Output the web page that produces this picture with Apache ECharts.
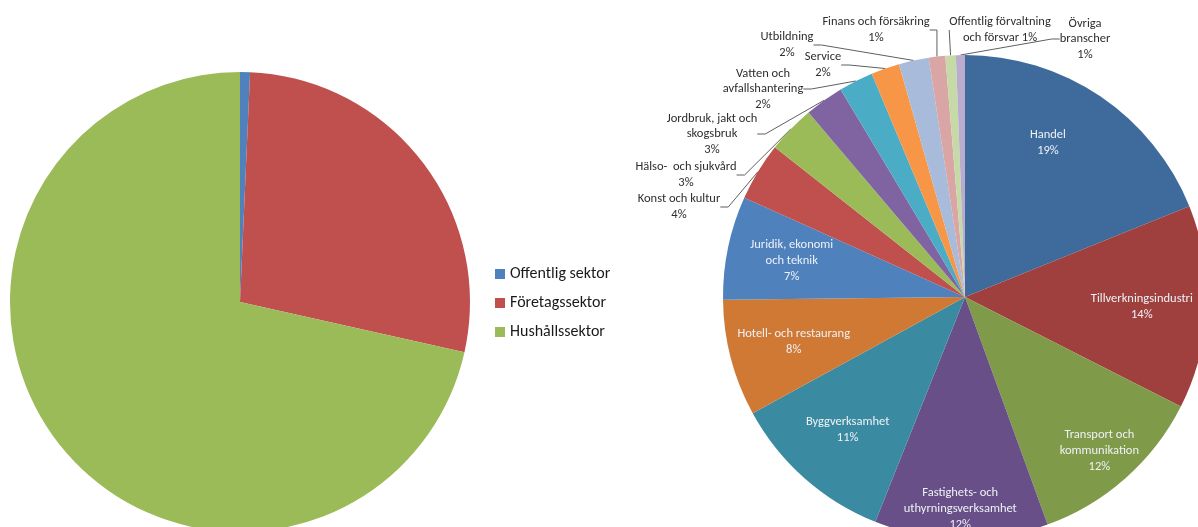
<!DOCTYPE html>
<html>
<head>
<meta charset="utf-8">
<script src="https://cdn.jsdelivr.net/npm/echarts@6/dist/echarts.min.js"></script>
<style>
  html, body { margin: 0; padding: 0; background: #fff; }
  #chart { width: 1198px; height: 527px; }
</style>
</head>
<body>
<div id="chart"></div>
<script>
// vänster diagram: sektorer
const sectorNames = ['Offentlig sektor', 'Företagssektor', 'Hushållssektor'];
const sectorValues = [0.7, 27.8, 71.5];
const sectorColors = ['#4F81BD', '#C0504D', '#9BBB59'];

// höger diagram: branscher (procent)
const branchNames = [
    'Handel',
    'Tillverkningsindustri',
    'Transport och\nkommunikation',
    'Fastighets- och\nuthyrningsverksamhet',
    'Byggverksamhet',
    'Hotell- och restaurang',
    'Juridik, ekonomi\noch teknik',
    'Konst och kultur',
    'Hälso-  och sjukvård',
    'Jordbruk, jakt och\nskogsbruk',
    'Vatten och\navfallshantering',
    'Service',
    'Utbildning',
    'Finans och försäkring',
    'Offentlig förvaltning\noch försvar',
    'Övriga\nbranscher'
];
const branchValues = [18.9, 13.6, 12.0, 11.6, 11.0, 7.8, 6.9, 3.9, 3.2, 2.6, 2.3, 1.9, 2.0, 1.1, 0.7, 0.6];
const branchColors = [
    '#3E6A9C', '#9F403E', '#7F9A49', '#684F87', '#3A8BA1', '#CF7935', '#4F81BD',
    '#C0504D', '#9BBB59', '#8064A2', '#4BACC6', '#F79646', '#A8BBDB', '#DAA6A5', '#C6DAA7', '#B9ACCF'
];
const insideCount = 7; // de stora sektorerna har etikett inuti

const fontFamily = 'Calibri, Carlito, Lato, sans-serif';

// manuellt placerade etiketter (som i Excel)
const outerLabelPos = {
    'Konst och kultur': [679, 207],
    'Hälso-  och sjukvård': [686, 175],
    'Jordbruk, jakt och\nskogsbruk': [712, 134],
    'Vatten och\navfallshantering': [763, 89],
    'Service': [823, 65],
    'Utbildning': [787, 45],
    'Finans och försäkring': [876, 30],
    'Offentlig förvaltning\noch försvar': [1000, 30],
    'Övriga\nbranscher': [1085, 39]
};
const insideOffset = {
    'Handel': [-16, -7],
    'Tillverkningsindustri': [0, 2],
    'Transport och\nkommunikation': [17, 21],
    'Fastighets- och\nuthyrningsverksamhet': [-2, 35]
};

const pctLabel = (params) => {
    const sep = params.name.indexOf('Offentlig') === 0 ? ' ' : '\n';
    return params.name + sep + Math.round(params.value) + '%';
};

const chart = echarts.init(document.getElementById('chart'));

const mainData = branchNames.map((n, i) => ({
    name: n,
    value: branchValues[i],
    itemStyle: { color: branchColors[i] },
    label: { show: i >= insideCount },
    labelLine: { show: i >= insideCount }
}));

const overlayData = branchNames.map((n, i) => ({
    name: n,
    value: branchValues[i],
    label: {
        show: i < insideCount,
        offset: insideOffset[n] || [0, 0]
    }
}));

const option = {
    animation: false,
    legend: {
        data: sectorNames,
        orient: 'vertical',
        left: 490,
        top: 261,
        itemWidth: 10,
        itemHeight: 10,
        itemGap: 13,
        icon: 'rect',
        textStyle: { fontFamily: fontFamily, fontSize: 16, color: '#1a1a1a' }
    },
    series: [
        {
            type: 'pie',
            center: [240, 302],
            radius: 230,
            startAngle: 90,
            clockwise: true,
            silent: true,
            label: { show: false },
            labelLine: { show: false },
            data: sectorNames.map((n, i) => ({
                name: n,
                value: sectorValues[i],
                itemStyle: { color: sectorColors[i] }
            }))
        },
        {
            type: 'pie',
            center: [965, 297],
            radius: 242,
            startAngle: 90,
            clockwise: true,
            avoidLabelOverlap: false,
            silent: true,
            label: {
                position: 'outside',
                formatter: pctLabel,
                fontFamily: fontFamily,
                fontSize: 12.5,
                lineHeight: 15.5,
                color: '#2e2e2e',
                align: 'center'
            },
            labelLine: {
                length: 8,
                length2: 8,
                lineStyle: { color: '#5f5f5f', width: 1 }
            },
            labelLayout: function (params) {
                const p = outerLabelPos[branchNames[params.dataIndex]];
                if (!p) return {};
                return { x: p[0], y: p[1], align: 'center', verticalAlign: 'middle' };
            },
            data: mainData
        },
        {
            // genomskinlig kopia som bara bär de inre etiketterna
            type: 'pie',
            center: [965, 297],
            radius: [0, 348],
            startAngle: 90,
            clockwise: true,
            avoidLabelOverlap: false,
            silent: true,
            z: 3,
            itemStyle: { color: 'rgba(0,0,0,0)' },
            label: {
                position: 'inside',
                formatter: pctLabel,
                fontFamily: fontFamily,
                fontSize: 12.5,
                lineHeight: 16,
                color: '#eef1f6'
            },
            labelLine: { show: false },
            data: overlayData
        }
    ]
};

chart.setOption(option);
</script>
</body>
</html>
